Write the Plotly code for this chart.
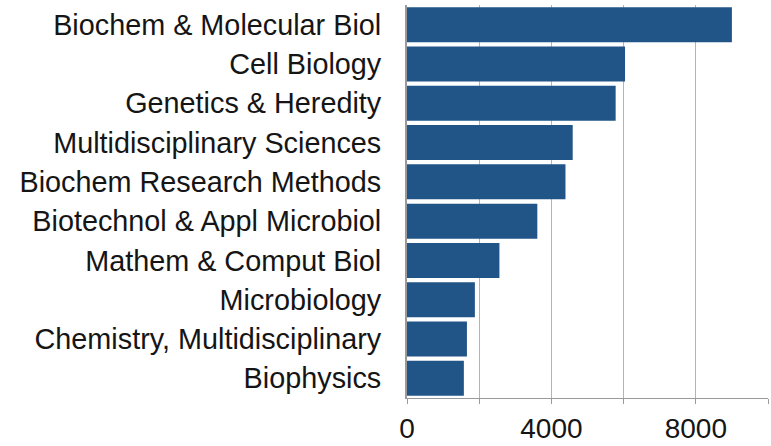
import plotly.graph_objects as go

categories = [
    "Biochem & Molecular Biol",
    "Cell Biology",
    "Genetics & Heredity",
    "Multidisciplinary Sciences",
    "Biochem Research Methods",
    "Biotechnol & Appl Microbiol",
    "Mathem & Comput Biol",
    "Microbiology",
    "Chemistry, Multidisciplinary",
    "Biophysics",
]
values = [9000, 6040, 5780, 4590, 4390, 3610, 2560, 1880, 1660, 1575]

tick_vals = [0, 2000, 4000, 6000, 8000, 10000]
tick_text = ["0", "", "4000", "", "8000", ""]

fig = go.Figure(
    go.Bar(
        x=values,
        y=categories,
        orientation="h",
        marker=dict(color="#215487", line=dict(width=0)),
        hoverinfo="skip",
    )
)

fig.update_layout(
    width=771,
    height=446,
    margin=dict(l=407, r=3, t=5, b=48, autoexpand=False),
    plot_bgcolor="white",
    paper_bgcolor="white",
    bargap=0.11,
    showlegend=False,
    font=dict(family="Liberation Sans, Arial, sans-serif", size=28, color="#151515"),
)

fig.update_xaxes(
    range=[0, 10000],
    tickvals=tick_vals,
    ticktext=tick_text,
    showgrid=True,
    gridcolor="#b4b4b4",
    gridwidth=1,
    showline=True,
    linecolor="#9a9a9a",
    linewidth=1,
    ticks="outside",
    ticklen=5,
    tickcolor="#9a9a9a",
    zeroline=False,
    tickfont=dict(size=28),
)

fig.update_yaxes(
    autorange="reversed",
    showline=True,
    linecolor="#9a9a9a",
    linewidth=2,
    ticks="",
    ticklabelstandoff=18,
    showgrid=False,
    tickfont=dict(size=28.8),
)

fig.write_html(
    "out.html",
    config={"displayModeBar": False},
    post_script="document.body.style.margin='0';document.body.style.padding='0';document.body.style.overflow='hidden';",
)
